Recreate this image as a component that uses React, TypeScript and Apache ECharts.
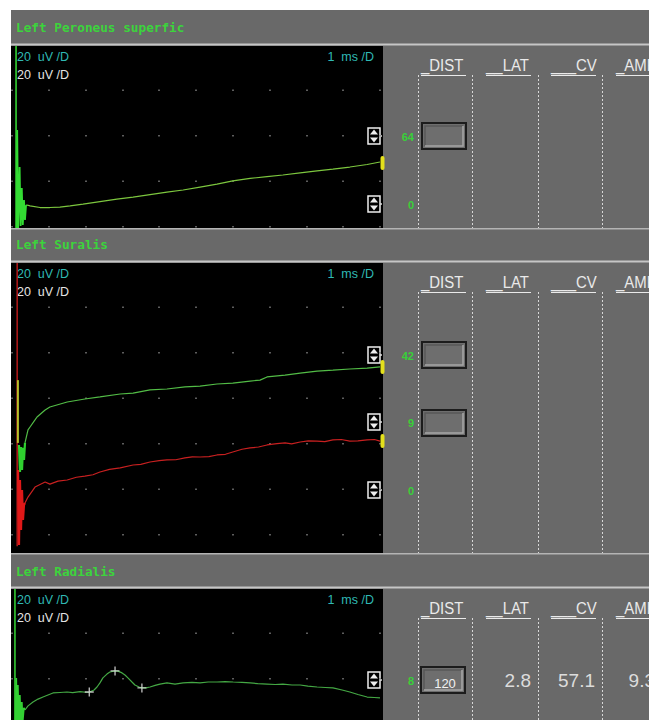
import { useEffect, useRef } from "react";
import * as echarts from "echarts";

// ---- Study content -------------------------------------------------------
const sectionTitles = ["Left Peroneus superfic", "Left Suralis", "Left Radialis"];
const gainText = "20  uV /D";
const sweepText = "1  ms /D";
const columnHeaders = ["_DIST", "__LAT", "___CV", "_AMP"];

// Sweep 0–10 ms, 1 ms per division
const sweepMin = 0;
const sweepMax = 10;
const sweepStep = 1;

// Visible amplitude window of each trace panel, µV (20 µV per division)
const panelRangesUv = [80, 127.5, 57.6];

// Traces as [ms, µV] pairs
const peroneusStim = [[0.11, 0], [0.11, 80]];
const peroneusArtifact = [
  [0.13, 0], [0.141, 43.1], [0.168, 0], [0.207, 26.8], [0.234, 0.9], [0.266, 17.6],
  [0.293, 1.3], [0.326, 12.3], [0.353, 3.5], [0.38, 9.7], [0.408, 10.1],
];
const peroneusTrace = [
  [0.408, 10.1], [0.49, 9.7], [0.76, 9.0], [1.03, 9.0], [1.3, 9.2], [1.58, 9.7],
  [1.93, 10.5], [2.39, 11.6], [2.85, 12.7], [3.29, 13.6], [3.75, 14.7], [4.21, 15.8],
  [4.65, 16.7], [5.11, 18.0], [5.57, 19.3], [6.0, 20.7], [6.47, 21.8], [6.93, 22.6],
  [7.36, 23.3], [7.83, 24.2], [8.29, 25.1], [8.72, 25.9], [9.18, 26.8], [9.65, 27.9],
  [10, 29.0],
];

const suralisStim = [[0.14, 3], [0.14, 127.5]];
const suralisBaseMark = [[0.16, 48.4], [0.16, 76.0]];
const suralisUpperArtifact = [
  [0.19, 47.5], [0.217, 35.6], [0.245, 46.6], [0.272, 36.5], [0.299, 46.2],
  [0.326, 40.9], [0.353, 48.4],
];
const suralisUpper = [
  [0.353, 48.4], [0.435, 54.1], [0.49, 55.4], [0.625, 58.5], [0.68, 59.8], [0.9, 62.9],
  [1.03, 64.2], [1.5, 66.4], [1.98, 67.7], [2.39, 68.6], [2.94, 69.9], [3.29, 70.3],
  [3.75, 71.7], [4.21, 72.1], [4.7, 73.0], [5.11, 73.4], [5.57, 74.3], [6.0, 74.7],
  [6.47, 75.6], [6.74, 76.0], [6.93, 77.4], [7.42, 78.2], [7.83, 79.1], [8.29, 80.0],
  [8.72, 80.4], [9.18, 80.9], [9.65, 81.3], [10, 81.8],
];
const suralisLowerArtifact = [
  [0.163, 36.5], [0.19, 3.5], [0.217, 32.1], [0.245, 10.1], [0.272, 27.7],
  [0.299, 14.5], [0.326, 21.1], [0.353, 22.0],
];
const suralisLower = [
  [0.353, 22.0], [0.435, 24.6], [0.625, 29.0], [0.9, 31.2], [1.03, 30.3], [1.25, 31.6],
  [1.5, 32.1], [1.75, 33.3], [1.98, 33.8], [2.2, 34.4], [2.39, 35.6], [2.65, 36.8],
  [2.94, 37.4], [3.29, 38.7], [3.5, 39.0], [3.75, 40.0], [4.0, 40.6], [4.21, 40.9],
  [4.45, 41.0], [4.7, 41.8], [4.9, 42.3], [5.11, 42.2], [5.35, 42.4], [5.57, 43.1],
  [5.8, 43.4], [6.0, 44.4], [6.25, 45.6], [6.47, 46.2], [6.7, 46.6], [6.93, 47.5],
  [7.2, 48.1], [7.42, 48.4], [7.6, 48.0], [7.83, 48.8], [8.05, 49.3], [8.29, 49.2],
  [8.5, 49.0], [8.72, 49.7], [8.95, 49.9], [9.18, 49.2], [9.4, 49.3], [9.65, 49.7],
  [9.85, 49.9], [10, 49.2],
];

// Radialis sensory response: onset, peak and trough cursors
const radialisDistMm = 120;
const radialisLatMs = 2.8;
const radialisCvMs = 57.1;
const radialisAmpUv = 9.3;
const radialisOnsetMs = 2.1;
const radialisOnsetUv = 12.3;
const radialisTroughMs = 3.53;
const radialisTroughUv = 14.1;
const radialisPeakUv = radialisOnsetUv + radialisAmpUv;

const radialisStim = [[0.08, 0], [0.08, 57.6]];
const radialisArtifact = [
  [0.1, -2], [0.114, 18.5], [0.13, -2], [0.158, 15.4], [0.179, -2], [0.212, 11.0],
  [0.234, -2], [0.266, 7.9], [0.288, -1], [0.321, 5.3], [0.353, 4.4],
];
const radialisTrace = [
  [0.353, 4.4], [0.435, 6.2], [0.571, 7.9], [0.707, 9.2], [0.842, 10.1], [1.114, 11.9],
  [1.304, 12.1], [1.495, 12.3], [1.65, 12.0], [1.848, 12.5], [2.0, 12.2],
  [radialisOnsetMs, radialisOnsetUv], [2.23, 13.2], [2.31, 14.5], [2.39, 16.3],
  [2.47, 18.5], [2.58, 20.2], [2.66, 21.1], [radialisLatMs, radialisPeakUv], [2.88, 21.5],
  [2.99, 20.7], [3.07, 19.8], [3.15, 18.5], [3.26, 16.7], [3.34, 15.4], [3.45, 14.5],
  [radialisTroughMs, radialisTroughUv], [3.64, 14.1], [3.75, 14.5], [3.89, 15.2],
  [4.02, 15.8], [4.21, 16.3], [4.43, 15.8], [4.65, 16.3], [4.89, 16.5], [5.11, 16.3],
  [5.33, 16.7], [5.57, 16.7], [5.79, 16.9], [6.01, 16.7], [6.25, 16.5], [6.47, 16.3],
  [6.68, 16.0], [6.93, 15.8], [7.15, 15.6], [7.36, 15.8], [7.61, 15.4], [7.83, 15.4],
  [8.04, 14.9], [8.29, 14.5], [8.51, 14.3], [8.72, 14.1], [8.97, 13.2], [9.18, 12.3],
  [9.4, 11.2], [9.65, 10.1], [9.84, 9.9], [10, 9.7],
];
const radialisCursors = [
  [radialisOnsetMs, radialisOnsetUv],
  [radialisLatMs, radialisPeakUv],
  [radialisTroughMs, radialisTroughUv],
];

// Site labels beside the distance fields
const peroneusSites = ["64", "0"];
const suralisSites = ["42", "9", "0"];
const radialisSites = ["8"];

// ---- Styling / layout ----------------------------------------------------
const GRAY = "#696969";
const LIGHT = "#c6c6c6";
const TITLE_GREEN = "#3cd43c";
const CYAN = "#2fb9b4";
const PANEL_LEFT = 11;
const PANEL_RIGHT = 383;
const PLOT_LEFT = 12;
const PLOT_WIDTH = 368;
const COLUMN_LINES = [418, 472, 538, 602];
const HEADER_X = [421, 486, 551, 616];
const HEADER_W = [45, 45, 45, 40];

const sections = [
  { top: 46, bottom: 228, titleY: 28, headerBase: 74, boxes: [123], siteYs: [137, 205], yellow: [163], sites: peroneusSites },
  { top: 263, bottom: 553, titleY: 245, headerBase: 291, boxes: [342, 410], siteYs: [356, 423, 491], yellow: [367, 441], sites: suralisSites },
  { top: 589, bottom: 720, titleY: 572, headerBase: 617, boxes: [667], siteYs: [681], yellow: [], sites: radialisSites },
];

function arrowIcon(cx: number, cy: number) {
  return {
    type: "group",
    x: cx,
    y: cy,
    z: 20,
    children: [
      { type: "rect", shape: { x: -6, y: -8, width: 12, height: 16 }, style: { fill: "#000", stroke: "#eeeeee", lineWidth: 1.5 } },
      { type: "polygon", shape: { points: [[-4, -1.5], [4, -1.5], [0, -6.5]] }, style: { fill: "#eeeeee" } },
      { type: "polygon", shape: { points: [[-4, 1.5], [4, 1.5], [0, 6.5]] }, style: { fill: "#eeeeee" } },
      { type: "line", shape: { x1: 6, y1: 0, x2: 8, y2: 0 }, style: { stroke: "#dddddd", lineWidth: 1.5 } },
    ],
  };
}

function fieldBox(x: number, y: number) {
  const w = 44;
  const h = 26;
  return {
    type: "group",
    z: 5,
    children: [
      { type: "rect", shape: { x, y, width: w, height: h }, style: { fill: "#6e6e6e", stroke: "#1c1c1c", lineWidth: 2 } },
      { type: "polyline", shape: { points: [[x + 3, y + h - 3], [x + 3, y + 3], [x + w - 3, y + 3]] }, style: { stroke: "#585858", lineWidth: 1.5 } },
      { type: "polyline", shape: { points: [[x + 3, y + h - 3], [x + w - 3, y + h - 3], [x + w - 3, y + 3]] }, style: { stroke: "#a6a6a6", lineWidth: 1.5 } },
    ],
  };
}

function buildGraphics() {
  const g: any[] = [];
  g.push({ type: "rect", z: -20, shape: { x: PANEL_LEFT, y: 10, width: 649 - PANEL_LEFT, height: 710 }, style: { fill: GRAY } });

  sections.forEach((s, i) => {
    // trace window
    g.push({ type: "rect", z: -15, shape: { x: PANEL_LEFT, y: s.top, width: PANEL_RIGHT - PANEL_LEFT, height: s.bottom - s.top }, style: { fill: "#000" } });
    // separators
    g.push({ type: "line", z: -14, shape: { x1: PANEL_LEFT, y1: s.top - 1.5, x2: 649, y2: s.top - 1.5 }, style: { stroke: LIGHT, lineWidth: 2 } });
    if (s.bottom < 720) {
      g.push({ type: "line", z: -14, shape: { x1: PANEL_LEFT, y1: s.bottom + 0.75, x2: 649, y2: s.bottom + 0.75 }, style: { stroke: "#b4b4b4", lineWidth: 1.5 } });
    }
    // section title
    g.push({
      type: "text", z: 5, x: 16, y: s.titleY, scaleX: 1.06,
      style: { text: sectionTitles[i], fill: TITLE_GREEN, font: 'bold 12px "DejaVu Sans Mono"', verticalAlign: "middle", align: "left" },
    });
    // gain / sweep labels
    g.push({ type: "text", z: 5, x: 17, y: s.top + 11, style: { text: gainText, fill: CYAN, font: '12.5px "Liberation Sans"', verticalAlign: "middle", align: "left" } });
    g.push({ type: "text", z: 5, x: 17, y: s.top + 29, style: { text: gainText, fill: "#e4e4e4", font: '12.5px "Liberation Sans"', verticalAlign: "middle", align: "left" } });
    g.push({ type: "text", z: 5, x: 374, y: s.top + 11, style: { text: sweepText, fill: CYAN, font: '12.5px "Liberation Sans"', verticalAlign: "middle", align: "right" } });

    // result table
    COLUMN_LINES.forEach((cx) => {
      g.push({ type: "line", z: 2, shape: { x1: cx + 0.5, y1: s.headerBase + 1, x2: cx + 0.5, y2: s.bottom }, style: { stroke: "#d8d8d8", lineWidth: 1, lineDash: [2, 2] } });
    });
    columnHeaders.forEach((h, k) => {
      g.push({
        type: "text", z: 5, x: HEADER_X[k], y: s.headerBase, scaleX: 0.88,
        style: { text: h, fill: "#eaeaea", font: '17px "Liberation Sans"', verticalAlign: "bottom", align: "left" },
      });
      g.push({ type: "line", z: 5, shape: { x1: HEADER_X[k], y1: s.headerBase + 1.5, x2: HEADER_X[k] + HEADER_W[k], y2: s.headerBase + 1.5 }, style: { stroke: "#eaeaea", lineWidth: 1 } });
    });
    s.boxes.forEach((by) => g.push(fieldBox(i === 2 ? 421 : 422, by)));
    s.sites.forEach((label, k) => {
      g.push({ type: "text", z: 5, x: 414, y: s.siteYs[k], style: { text: label, fill: "#38d038", font: 'bold 11px "Liberation Sans"', verticalAlign: "middle", align: "right" } });
      g.push(arrowIcon(374, s.siteYs[k] - 1));
    });
    s.yellow.forEach((yy) => {
      g.push({ type: "rect", z: 20, shape: { x: 380.5, y: yy - 7, width: 4, height: 14, r: 2 }, style: { fill: "#e4e01c" } });
    });
  });

  // radialis measurements
  g.push({ type: "text", z: 6, x: 445, y: 683, style: { text: String(radialisDistMm), fill: "#f2f2f2", font: '13px "Liberation Sans"', verticalAlign: "middle", align: "center" } });
  const valFont = '19px "Liberation Sans"';
  g.push({ type: "text", z: 6, x: 531, y: 680, style: { text: radialisLatMs.toFixed(1), fill: "#dcdcdc", font: valFont, verticalAlign: "middle", align: "right" } });
  g.push({ type: "text", z: 6, x: 595, y: 680, style: { text: radialisCvMs.toFixed(1), fill: "#dcdcdc", font: valFont, verticalAlign: "middle", align: "right" } });
  g.push({ type: "text", z: 6, x: 655, y: 680, style: { text: radialisAmpUv.toFixed(1), fill: "#dcdcdc", font: valFont, verticalAlign: "middle", align: "right" } });
  return g;
}

function lineSeries(data: number[][], idx: number, color: string, width = 1.2, z = 5) {
  return {
    type: "line",
    xAxisIndex: idx,
    yAxisIndex: idx,
    data,
    showSymbol: false,
    symbol: "none",
    z,
    lineStyle: { color, width },
    itemStyle: { color },
    silent: true,
  };
}

export default function App() {
  const ref = useRef<HTMLDivElement>(null);

  useEffect(() => {
    if (!ref.current) return;
    const chart = echarts.init(ref.current, undefined, { renderer: "svg" });

    const grids = sections.map((s) => ({
      left: PLOT_LEFT,
      top: s.top,
      width: PLOT_WIDTH,
      height: s.bottom - s.top,
      containLabel: false,
    }));
    const xAxes = sections.map((_, i) => ({
      type: "value",
      gridIndex: i,
      min: sweepMin,
      max: sweepMax,
      interval: sweepStep,
      z: 1,
      axisLine: { show: false },
      axisTick: { show: false },
      axisLabel: { show: false },
      splitLine: { show: true, lineStyle: { color: "#7c7c7c", width: 1.5, type: [1.5, 44], dashOffset: 1.5 } },
    }));
    const yAxes = sections.map((_, i) => ({
      type: "value",
      gridIndex: i,
      min: 0,
      max: panelRangesUv[i],
      show: false,
      splitLine: { show: false },
    }));

    chart.setOption({
      animation: false,
      backgroundColor: "#ffffff",
      grid: grids,
      xAxis: xAxes,
      yAxis: yAxes,
      graphic: buildGraphics(),
      series: [
        lineSeries(peroneusStim, 0, "#36e036", 1.5),
        lineSeries(peroneusArtifact, 0, "#33dc33", 1.8),
        lineSeries(peroneusTrace, 0, "#7cc63e", 1.2),

        lineSeries(suralisStim, 1, "#d01c1c", 1.3),
        lineSeries(suralisBaseMark, 1, "#b8c02a", 2),
        lineSeries(suralisUpperArtifact, 1, "#2fd02f", 2.2),
        lineSeries(suralisUpper, 1, "#52bc46", 1.2),
        lineSeries(suralisLowerArtifact, 1, "#e01818", 2.2),
        lineSeries(suralisLower, 1, "#c82020", 1.2),

        lineSeries(radialisStim, 2, "#36d836", 1.5),
        lineSeries(radialisArtifact, 2, "#33d033", 1.8),
        lineSeries(radialisTrace, 2, "#44a844", 1.2),
        {
          type: "scatter",
          xAxisIndex: 2,
          yAxisIndex: 2,
          data: radialisCursors,
          symbol: "path://M-1.5,-10H1.5V-1.5H10V1.5H1.5V10H-1.5V1.5H-10V-1.5H-1.5Z",
          symbolSize: 9,
          z: 8,
          itemStyle: { color: "#e8e8e8" },
          silent: true,
        },
      ],
    });

    return () => chart.dispose();
  }, []);

  return (
    <div
      ref={ref}
      style={{ position: "fixed", left: 0, top: 0, width: 649, height: 720 }}
    />
  );
}
